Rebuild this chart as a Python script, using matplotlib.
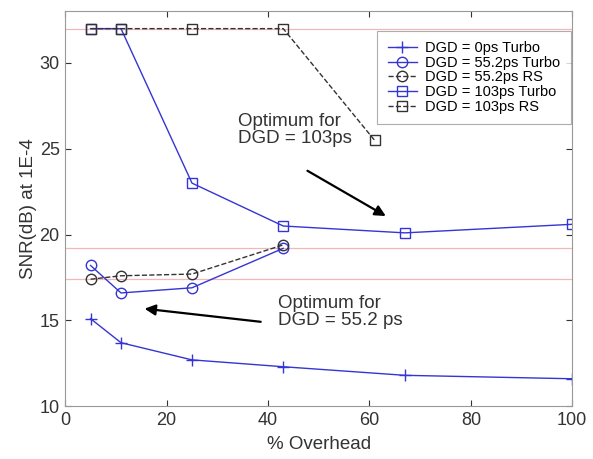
import numpy as np
import matplotlib
matplotlib.use("Agg")
import matplotlib.pyplot as plt

plt.rcParams["font.family"] = ["Liberation Sans", "DejaVu Sans"]

# Daten
x_0ps = [5, 11, 25, 43, 67, 100]
snr_0ps_turbo = [15.1, 13.7, 12.7, 12.3, 11.8, 11.6]

x_55 = [5, 11, 25, 43]
snr_55_turbo = [18.2, 16.6, 16.9, 19.2]
snr_55_rs = [17.4, 17.6, 17.7, 19.4]

x_103_turbo = [5, 11, 25, 43, 67, 100]
snr_103_turbo = [32, 32, 23.0, 20.5, 20.1, 20.6]

x_103_rs = [5, 11, 25, 43, 61]
snr_103_rs = [32, 32, 32, 32, 25.5]

# rote Referenzlinien
ref_levels = [32, 19.2, 17.4]

blue = "#3535d5"
dark = "#333333"
fig = plt.figure(figsize=(5.93, 4.59), dpi=100)
ax = fig.add_axes([0.11, 0.115, 0.855, 0.86])

for lvl in ref_levels:
    ax.axhline(lvl, color="#f2b8b8", lw=0.9, zorder=0)

ax.plot(x_0ps, snr_0ps_turbo, "-+", color=blue, lw=1, ms=9, mew=1,
        label="DGD = 0ps Turbo")
ax.plot(x_55, snr_55_turbo, "-o", color=blue, lw=1, ms=7.5, mfc="none",
        label="DGD = 55.2ps Turbo")
ax.plot(x_55, snr_55_rs, "--o", color=dark, lw=1, ms=7.5, mfc="none",
        label="DGD = 55.2ps RS")
ax.plot(x_103_turbo, snr_103_turbo, "-s", color=blue, lw=1, ms=7.5, mfc="none",
        label="DGD = 103ps Turbo")
ax.plot(x_103_rs, snr_103_rs, "--s", color=dark, lw=1, ms=7.5, mfc="none",
        label="DGD = 103ps RS")

# Pfeile + Text
ax.annotate("", xy=(63.7, 21.0), xytext=(47.3, 23.8),
            arrowprops=dict(arrowstyle="-|>", color="black", lw=1.6,
                            mutation_scale=16))
ax.text(34.0, 27.1, "Optimum for\nDGD = 103ps", fontsize=13.5, va="top",
        ha="left", color=dark, linespacing=1.0)
ax.annotate("", xy=(15.1, 15.7), xytext=(39.1, 14.9),
            arrowprops=dict(arrowstyle="-|>", color="black", lw=1.6,
                            mutation_scale=16))
ax.text(42.0, 16.5, "Optimum for\nDGD = 55.2 ps", fontsize=13.5, va="top",
        ha="left", color=dark, linespacing=1.0)

ax.set_xlim(0, 100)
ax.set_ylim(10, 33)
ax.set_xticks([0, 20, 40, 60, 80, 100])
ax.set_yticks([10, 15, 20, 25, 30])
ax.tick_params(direction="in", top=True, right=True, labelsize=13,
               colors=dark, length=4, pad=4)
for sp in ax.spines.values():
    sp.set_color("#999999")

ax.set_xlabel("% Overhead", fontsize=13.5, color=dark, labelpad=5)
ax.set_ylabel("SNR(dB) at 1E-4", fontsize=13.5, color=dark, labelpad=2)

leg = ax.legend(loc="upper right", bbox_to_anchor=(1.0, 0.955), fontsize=10.5,
                frameon=True, fancybox=False, borderpad=0.7, labelspacing=0.05,
                handlelength=2.0, handletextpad=0.6, borderaxespad=0.1)
leg.get_frame().set_edgecolor("#999999")
leg.get_frame().set_linewidth(0.8)

fig.savefig("out.png", dpi=100)
